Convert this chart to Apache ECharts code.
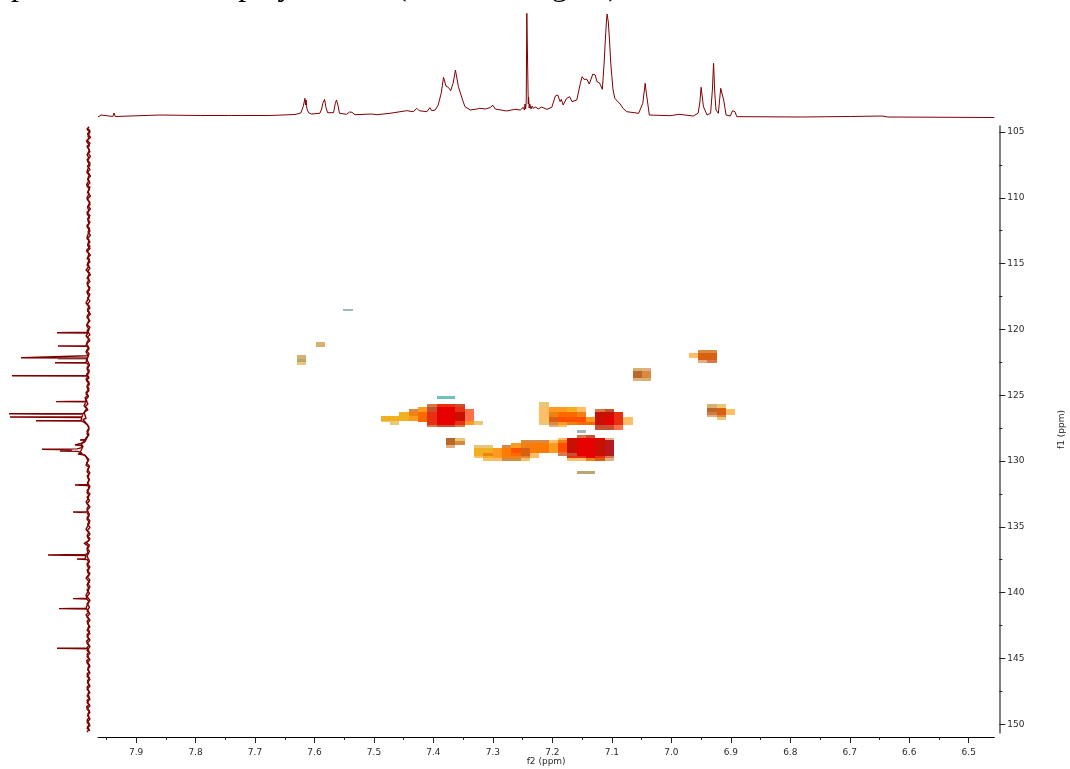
<!DOCTYPE html>
<html><head><meta charset="utf-8">
<style>html,body{margin:0;padding:0;background:#fff}#c{width:1070px;height:769px}</style>
<script src="https://cdn.jsdelivr.net/npm/echarts@6/dist/echarts.min.js"></script>
</head><body><div id="c"></div>
<script>
const f2Range = [6.457, 7.964];
const f1Range = [104.54, 150.67];
const f2Ticks = [7.9,7.8,7.7,7.6,7.5,7.4,7.3,7.2,7.1,7.0,6.9,6.8,6.7,6.6,6.5];
const f2MinorTicks = [7.95,7.85,7.75,7.65,7.55,7.45,7.35,7.25,7.15,7.05,6.95,6.85,6.75,6.65,6.55];
const f1Ticks = [105,110,115,120,125,130,135,140,145,150];
const f1MinorTicks = [107.5,112.5,117.5,122.5,127.5,132.5,137.5,142.5,147.5];

// 1H projection: [f2 ppm, intensity]
const protonTrace = [[7.964,1],[7.961,1],[7.959,3],[7.957,1],[7.939,1.5],[7.937,5],[7.935,1.5],[7.910,2],[7.860,3],[7.792,2.5],[7.744,2.5],[7.742,4.5],[7.740,2.5],[7.723,2.5],[7.722,4],[7.720,2.5],[7.675,2.5],[7.633,3.5],
[7.623,5],[7.619,11.3],[7.616,19.7],[7.615,13],[7.614,18],[7.613,10],[7.610,5.3],[7.605,4],[7.591,4.7],[7.588,9],[7.586,14.7],[7.583,18.7],[7.581,11.3],[7.578,5.3],[7.568,5.3],[7.565,14.7],[7.563,18],[7.560,11.3],[7.558,4.7],[7.546,3.7],[7.541,6],[7.537,5.7],[7.532,3.3],[7.504,4],[7.495,3.3],[7.473,4.7],[7.445,7.3],[7.434,6.3],[7.428,9.7],[7.424,7.3],[7.411,6.3],[7.406,10.3],[7.403,7.3],[7.397,8],[7.392,13],[7.387,24.7],[7.383,40.7],[7.379,32],[7.375,30.7],[7.371,27.3],[7.367,34.7],[7.363,48],[7.358,31.3],[7.355,30.7],[7.351,18],[7.347,11.3],[7.338,8],[7.327,9],[7.322,9.7],[7.313,9],[7.305,10.3],[7.300,12.7],[7.296,9],[7.277,7],[7.263,8.7],[7.254,8],[7.249,10.7],[7.247,8],[7.246,14],[7.245,9],[7.244,16],[7.243,104.7],[7.242,104.7],[7.241,30],[7.2405,14],[7.240,21],[7.239,10],[7.238,14],[7.236,9],[7.234,12],[7.232,9.7],[7.228,11],[7.224,9],[7.218,11],[7.209,8.7],[7.201,10.7],[7.195,22],[7.191,23],[7.187,16.3],[7.185,18.7],[7.182,13],[7.176,19.7],[7.171,21.3],[7.167,16.3],[7.159,18],[7.153,34.7],[7.150,41.3],[7.147,38.7],[7.142,38.7],[7.138,34],[7.132,44],[7.128,43],[7.125,36.3],[7.121,35.3],[7.116,28.7],[7.113,55],[7.111,78],[7.109,98],[7.108,104],[7.106,96],[7.104,78],[7.102,56],[7.100,41.3],[7.098,28],[7.095,19.7],[7.091,17],[7.086,14],[7.081,9.5],[7.075,6.3],[7.055,4.7],[7.048,14.7],[7.044,34.7],[7.042,24.7],[7.041,26.3],[7.037,3],[7.002,2.3],[6.987,3.7],[6.963,2],[6.955,4.7],[6.952,16],[6.950,30.7],[6.946,11.3],[6.940,3],[6.934,4.7],[6.931,28],[6.929,54.7],[6.927,26],[6.925,8],[6.921,4.7],[6.917,29.7],[6.915,28.7],[6.912,18],[6.908,3],[6.901,2],[6.897,7.3],[6.893,6.3],[6.890,1.3],[6.873,1.3],[6.783,1],[6.699,1.5],[6.646,2],[6.636,1],[6.457,0.5]];

// 13C projection: [intensity, f1 ppm]
const carbonTrace = [[3,104.6],[5,104.8],[2,105.0],[4,105.3],[3,105.5],[5.5,105.7],[2.5,106.0],[4,106.2],[2,106.5],[5,106.7],[3,107.0],[4.5,107.2],[2,107.5],[3.5,107.7],[5,108.0],[2.5,108.2],[4,108.5],[3,108.7],[5.5,109.0],[2,109.2],[4,109.5],[3,109.7],[5,110.0],[3.5,110.2],[2,110.5],[4.5,110.7],[3,111.0],[5,111.2],[2.5,111.5],[4,111.7],[3,112.0],[5,112.2],[2,112.5],[3.5,112.7],[5,113.0],[3,113.2],[4,113.5],[2,113.7],[5.5,114.0],[3,114.2],[4,114.5],[2.5,114.7],[4.5,115.0],[3,115.2],[6,115.5],[2.5,115.7],[4,116.0],[3,116.2],[5,116.5],[4,116.7],[2.5,117.0],[5,117.2],[3,117.5],[4,117.7],[6,118.0],[3,118.2],[4.5,118.5],[2.5,118.7],[5,119.0],[3,119.2],[4,119.5],[5.5,119.7],[3,120.0],[4,120.22],[35,120.25],[4,120.28],[6,120.5],[3,120.7],[5,121.0],[6,121.23],[34,121.26],[5,121.29],[3,121.5],[6,121.7],[4,122.0],[5,122.12],[71,122.15],[5,122.18],[3,122.3],[6,122.5],[37,122.53],[5,122.56],[3,122.8],[5,123.0],[3,123.3],[5,123.49],[80,123.52],[4,123.55],[6,123.8],[3,124.0],[5,124.3],[3,124.5],[6,124.8],[4,125.0],[7,125.2],[5,125.46],[36,125.49],[6,125.52],[8,125.8],[5,126.0],[7,126.2],[8,126.38],[83,126.41],[9,126.45],[7,126.55],[10,126.63],[82,126.66],[10,126.7],[11,126.91],[56,126.94],[10,126.97],[7,127.1],[4,127.3],[3,127.6],[5,127.9],[4,128.1],[6,128.37],[12,128.40],[6,128.43],[8,128.6],[10,128.75],[17,128.78],[10,128.81],[11,129.0],[15,129.08],[50,129.11],[20,129.14],[18,129.21],[32,129.24],[14,129.27],[10,129.4],[14,129.47],[7,129.55],[5,129.8],[4,130.0],[6,130.3],[3,130.5],[5,130.8],[3,131.0],[4,131.3],[3,131.5],[5,131.79],[17,131.82],[4,131.86],[3,132.1],[5,132.4],[3,132.6],[4,132.9],[6,133.1],[3,133.4],[5,133.6],[4,133.85],[19,133.88],[5,133.91],[3,134.2],[5,134.4],[2.5,134.7],[4,134.9],[6,135.2],[3,135.4],[5,135.7],[2,135.9],[4,136.1],[8,136.25],[3,136.5],[5,136.7],[4,136.95],[6,137.11],[44,137.14],[6,137.18],[4,137.3],[7,137.42],[15,137.45],[5,137.48],[3,137.7],[5,137.9],[3,138.2],[4.5,138.4],[3,138.7],[6,138.9],[2.5,139.2],[5,139.4],[3,139.7],[4,139.9],[6,140.2],[5,140.43],[19,140.46],[5,140.49],[3,140.7],[5,141.0],[6,141.19],[33,141.22],[5,141.25],[3,141.5],[6,141.7],[3,142.0],[5,142.2],[3,142.5],[4,142.7],[2.5,143.0],[5,143.2],[3,143.5],[5.5,143.7],[3,144.0],[5,144.2],[35,144.23],[4,144.27],[3,144.5],[5,144.7],[3,145.0],[5.5,145.2],[2.5,145.5],[4,145.7],[3,146.0],[5,146.2],[2.5,146.5],[4.5,146.7],[3,147.0],[5,147.2],[3,147.5],[4,147.7],[2.5,148.0],[5,148.2],[3,148.5],[5.5,148.7],[2.5,149.0],[4,149.2],[3,149.5],[5,149.7],[2.5,150.0],[4.5,150.2],[3,150.4],[5,150.6]];
// finer baseline ripple of the same projection
const carbonRipple = [[5,104.7],[2,104.9],[4.5,105.15],[1.5,105.4],[5,105.6],[2,105.85],[5,106.1],[2.5,106.35],[4,106.6],[1.5,106.85],[5,107.1],[2,107.35],[4.5,107.6],[2,107.85],[5,108.1],[1.5,108.35],[4.5,108.6],[2,108.85],[5,109.1],[2.5,109.35],[4.5,109.6],[1.5,109.85],[5,110.1],[2,110.35],[4,110.6],[1.5,110.85],[5,111.1],[2,111.35],[4.5,111.6],[2,111.85],[5,112.1],[2.5,112.35],[4,112.6],[1.5,112.85],[5,113.1],[2,113.35],[4.5,113.6],[2,113.85],[5,114.1],[1.5,114.35],[5,114.6],[2,114.85],[5,115.1],[2,115.35],[4.5,115.6],[1.5,115.85],[5,116.1],[2,116.35],[4.5,116.6],[2,116.85],[5,117.1],[2,117.35],[4.5,117.6],[2,117.85],[5,118.1],[2,118.35],[4.5,118.6],[1.5,118.85],[5,119.1],[2,119.35],[5,119.6],[2,119.85],[5,120.1],[2,120.4],[5,120.6],[2,120.85],[5.5,121.1],[3,121.4],[5.5,121.6],[3,121.85],[5,122.3],[2.5,122.7],[5,122.9],[2.5,123.15],[5.5,123.4],[3,123.65],[5.5,123.9],[2.5,124.15],[5,124.4],[3,124.65],[6,124.9],[3.5,125.1],[6.5,125.35],[4,125.65],[7,125.9],[4,126.1],[8,126.3],[6,126.75],[9,126.85],[5,127.2],[3,127.45],[5,127.75],[3,128.0],[6,128.25],[8,128.5],[11,128.7],[9,128.9],[12,129.35],[6,129.65],[3,129.9],[5.5,130.15],[2.5,130.4],[4.5,130.65],[2,130.9],[5,131.15],[2.5,131.4],[4.5,131.65],[2,131.95],[5,132.25],[2,132.5],[5,132.75],[2.5,133.0],[5,133.25],[2,133.5],[5,133.75],[2.5,134.05],[5,134.3],[2,134.55],[4.5,134.8],[2,135.05],[5,135.3],[2,135.55],[4.5,135.8],[2.5,136.0],[6,136.2],[2.5,136.4],[5,136.6],[2.5,136.85],[5,137.25],[2.5,137.6],[5,137.8],[2,138.05],[5,138.3],[2,138.55],[5,138.8],[2,139.05],[4.5,139.3],[2,139.55],[5,139.8],[2.5,140.05],[5,140.3],[2,140.6],[5,140.85],[2.5,141.1],[5,141.4],[2,141.6],[5,141.85],[2,142.1],[4.5,142.35],[2,142.6],[5,142.85],[2,143.1],[5,143.35],[2,143.6],[5,143.85],[2,144.1],[5,144.4],[2,144.6],[5,144.85],[2,145.1],[5,145.35],[2,145.6],[4.5,145.85],[2,146.1],[5,146.35],[2,146.6],[4.5,146.85],[2,147.1],[5,147.35],[2,147.6],[5,147.85],[2,148.1],[5,148.35],[2,148.6],[5,148.85],[2,149.1],[4.5,149.35],[2,149.6],[5,149.85],[2,150.1],[5,150.3],[2,150.5]];
const carbonGhost = [[4,122.2],[34,122.2]];

const shadeNames = ['#e8c878','#ffbe66','#f0b020','#ff9a20','#f08010','#ff6a00','#ff5000','#e83010','#e60000','#c81000','#b8682a','#d88a40','#d8b070','#70c0c0','#a0b8b8','#b8a870','#d87848','#ff7048','#b81820','#d86010','#e0b080','#c85030','#ff7a00'];

// HSQC correlation cells: [f2 from, f2 to, f1 from, f1 to, contour level]
const cellsA = [[7.411,7.394,125.67,125.90,16],[7.394,7.364,125.67,125.90,7],[7.364,7.347,125.67,125.90,21],
[7.426,7.411,125.90,126.25,3],[7.411,7.394,125.90,126.25,21],[7.394,7.364,125.90,126.25,8],[7.364,7.347,125.90,126.25,7],[7.347,7.332,126.05,126.25,17],[7.441,7.426,126.05,126.25,11],
[7.458,7.441,126.25,126.58,2],[7.441,7.426,126.25,126.58,4],[7.426,7.411,126.25,126.58,5],[7.411,7.394,126.25,126.58,7],[7.394,7.364,126.25,126.58,8],[7.364,7.347,126.25,126.58,9],[7.347,7.332,126.25,126.58,17],
[7.488,7.473,126.58,126.94,2],[7.473,7.458,126.58,126.94,2],[7.458,7.441,126.58,126.94,2],[7.441,7.426,126.58,126.94,3],[7.426,7.411,126.58,127.01,5],[7.411,7.394,126.58,126.94,7],[7.394,7.364,126.58,126.94,8],[7.364,7.347,126.58,126.94,9],[7.347,7.332,126.58,126.94,17],
[7.488,7.473,126.94,127.01,0],[7.473,7.458,126.94,127.26,0],[7.411,7.394,126.94,127.26,7],[7.394,7.364,126.94,127.26,8],[7.364,7.347,126.94,127.26,7],[7.347,7.332,126.94,127.26,3],[7.332,7.317,126.94,127.26,0],
[7.411,7.394,127.26,127.42,16],[7.394,7.364,127.26,127.42,21],[7.364,7.347,127.26,127.42,16],[7.394,7.364,125.06,125.29,13]];
const cellsB = [[7.222,7.206,125.54,125.90,0],
[7.222,7.206,125.90,126.25,1],[7.206,7.190,125.90,126.25,3],[7.190,7.175,125.90,126.25,3],[7.175,7.158,125.90,126.25,2],[7.158,7.143,125.90,126.25,1],
[7.222,7.206,126.25,126.63,1],[7.206,7.190,126.25,126.63,4],[7.190,7.175,126.25,126.63,5],[7.175,7.158,126.25,126.63,5],[7.158,7.143,126.25,126.63,4],
[7.222,7.206,126.63,127.01,1],[7.206,7.190,126.63,127.01,19],[7.190,7.175,126.63,127.01,6],[7.175,7.143,126.63,127.01,6],[7.143,7.128,126.66,127.01,3],
[7.222,7.206,127.01,127.26,0],[7.206,7.190,127.01,127.26,11],[7.190,7.175,127.01,127.26,3],[7.175,7.158,127.01,127.26,4],[7.158,7.143,127.01,127.26,5],[7.143,7.128,127.01,127.26,5],
[7.206,7.190,127.26,127.42,20],[7.190,7.175,127.26,127.42,1],
[7.128,7.111,126.05,126.30,16],[7.111,7.096,126.05,126.30,21],[7.128,7.111,126.30,126.66,9],[7.111,7.096,126.30,126.66,9],[7.096,7.081,126.30,127.26,7],
[7.128,7.111,126.66,127.26,9],[7.111,7.096,126.66,127.26,8],[7.081,7.064,126.66,127.26,1],
[7.128,7.111,127.26,127.64,21],[7.111,7.096,127.26,127.64,21],[7.096,7.081,127.26,127.64,17],[7.158,7.143,127.64,127.87,14]];
const cellsC = [[7.379,7.364,128.25,128.78,10],[7.379,7.364,128.78,129.01,20],[7.364,7.347,128.25,128.48,0],[7.364,7.347,128.48,128.78,11],
[7.158,7.143,128.02,128.25,16],[7.143,7.128,128.02,128.25,21],
[7.190,7.175,128.25,128.40,1],[7.175,7.158,128.25,128.40,9],[7.158,7.111,128.25,128.40,8],[7.111,7.096,128.25,128.40,20],
[7.253,7.222,128.40,128.66,11],[7.222,7.206,128.40,128.66,11],[7.206,7.190,128.40,128.66,1],[7.190,7.175,128.40,128.66,4],[7.175,7.158,128.40,128.66,9],[7.158,7.128,128.40,128.66,8],[7.128,7.111,128.40,128.66,9],[7.111,7.096,128.40,128.66,18],
[7.285,7.269,128.78,129.04,11],[7.269,7.253,128.66,129.04,3],[7.253,7.238,128.66,129.04,4],[7.238,7.206,128.66,129.04,22],[7.206,7.190,128.66,129.04,3],[7.190,7.175,128.66,129.04,6],[7.175,7.158,128.66,129.04,9],[7.158,7.128,128.66,129.04,8],[7.128,7.111,128.66,129.04,9],[7.111,7.096,128.66,129.04,18],[7.332,7.300,128.78,129.04,0],
[7.332,7.317,129.04,129.42,2],[7.317,7.300,129.04,129.42,2],[7.300,7.285,129.04,129.42,3],[7.285,7.269,129.04,129.42,22],[7.269,7.253,129.04,129.42,6],[7.253,7.238,129.04,129.42,19],[7.238,7.222,129.04,129.42,22],[7.222,7.206,129.04,129.42,22],[7.206,7.190,129.04,129.42,3],[7.190,7.175,129.04,129.3,6],[7.175,7.158,129.04,129.42,9],[7.158,7.128,129.04,129.42,8],[7.128,7.111,129.04,129.42,9],[7.111,7.096,129.04,129.42,18],
[7.332,7.317,129.42,129.60,2],[7.317,7.300,129.42,129.60,4],[7.300,7.285,129.42,129.60,3],[7.285,7.269,129.42,129.60,22],[7.269,7.253,129.42,129.60,5],[7.253,7.238,129.42,129.60,19],[7.238,7.222,129.42,129.60,1],[7.190,7.175,129.3,129.6,16],[7.175,7.158,129.42,129.60,21],[7.158,7.128,129.42,129.60,8],[7.128,7.111,129.42,129.60,9],[7.111,7.096,129.42,129.60,18],
[7.332,7.317,129.60,129.77,1],[7.317,7.300,129.60,129.77,2],[7.300,7.285,129.60,129.77,3],[7.285,7.269,129.60,129.77,4],[7.269,7.253,129.60,129.77,4],[7.253,7.238,129.60,129.77,11],[7.238,7.222,129.60,129.77,1],[7.175,7.158,129.60,129.77,7],[7.158,7.143,129.60,129.77,7],[7.143,7.128,129.60,129.77,8],[7.128,7.111,129.60,129.77,7],[7.111,7.096,129.60,129.77,16],
[7.317,7.285,129.77,130.00,1],[7.285,7.253,129.77,130.00,11],[7.253,7.238,129.77,130.00,1],[7.175,7.143,129.77,130.00,1],[7.143,7.128,129.77,130.00,4],[7.128,7.111,129.77,130.00,19],[7.111,7.096,129.77,130.00,20],
[7.158,7.143,130.76,130.99,15],[7.143,7.128,130.76,130.99,15]];
const cellsD = [[6.970,6.955,121.79,122.17,1],[6.955,6.940,121.57,121.79,11],[6.955,6.940,121.79,122.33,19],[6.955,6.940,122.33,122.55,20],[6.940,6.923,121.57,121.79,11],[6.940,6.923,121.79,122.33,19],[6.940,6.923,122.33,122.55,16],
[7.064,7.049,122.93,123.16,12],[7.049,7.034,122.93,123.16,20],[7.064,7.049,123.16,123.69,10],[7.049,7.034,123.16,123.69,11],[7.064,7.049,123.69,123.92,20],[7.049,7.034,123.69,123.92,12],
[6.940,6.923,125.67,125.97,12],[6.940,6.923,125.97,126.28,10],[6.940,6.923,126.28,126.50,16],[6.940,6.923,126.50,126.66,20],[6.923,6.908,125.67,125.97,0],[6.923,6.908,125.97,126.50,19],[6.923,6.908,126.50,126.66,11],[6.923,6.908,126.66,126.88,0],[6.908,6.893,126.05,126.50,1],
[7.629,7.614,121.95,122.25,12],[7.629,7.614,122.25,122.48,15],[7.629,7.614,122.48,122.71,0],[7.597,7.582,120.96,121.34,12],[7.552,7.535,118.45,118.60,14]];
const hsqcCells = [...cellsA, ...cellsB, ...cellsC, ...cellsD];

const traceColor = '#7f0000';
const labelColor = '#2a2a2a';

const chart = echarts.init(document.getElementById('c'), null, {renderer:'canvas'});
chart.setOption({
  animation:false,
  backgroundColor:'#fff',
  graphic:[
    {type:'text',x:11,y:3,style:{text:'part of the NMR',font:'32px "Liberation Serif"',fill:'#000',verticalAlign:'bottom'}},
    {type:'text',x:201,y:3,style:{text:'display of the',font:'32px "Liberation Serif"',fill:'#000',verticalAlign:'bottom'}},
    {type:'text',x:396,y:3,style:{text:'(aromatic region)',font:'32px "Liberation Serif"',fill:'#000',verticalAlign:'bottom'}}
  ],
  grid:[
    {left:98,width:896.3,top:126,height:607,outerBoundsMode:'none'},
    {left:98,width:896.3,top:13,height:105,outerBoundsMode:'none'},
    {left:5,width:87,top:126,height:607,outerBoundsMode:'none'}
  ],
  xAxis:[
    {type:'value',gridIndex:0,inverse:true,min:f2Range[0],max:f2Range[1],position:'bottom',offset:4,
     name:'f2 (ppm)',nameLocation:'middle',nameGap:20,nameMoveOverlap:false,nameTextStyle:{fontFamily:'DejaVu Sans',fontSize:9,color:labelColor},
     axisLine:{show:true,onZero:false,lineStyle:{color:'#000',width:1}},
     axisTick:{show:true,length:6,customValues:f2Ticks,lineStyle:{color:'#222'}},
     axisLabel:{show:true,customValues:f2Ticks,formatter:v=>v.toFixed(1),margin:11,fontFamily:'DejaVu Sans',fontSize:9,color:labelColor},
     splitLine:{show:false}},
    {type:'value',gridIndex:0,inverse:true,min:f2Range[0],max:f2Range[1],position:'bottom',offset:4,
     axisLine:{show:false,onZero:false},axisTick:{show:true,length:3,customValues:f2MinorTicks,lineStyle:{color:'#222'}},
     axisLabel:{show:false},splitLine:{show:false}},
    {type:'value',gridIndex:1,inverse:true,min:f2Range[0],max:f2Range[1],show:false},
    {type:'value',gridIndex:2,inverse:true,min:0,max:87,show:false}
  ],
  yAxis:[
    {type:'value',gridIndex:0,inverse:true,min:f1Range[0],max:f1Range[1],position:'right',offset:5,
     name:'f1 (ppm)',nameLocation:'middle',nameGap:58,nameRotate:90,nameTextStyle:{fontFamily:'DejaVu Sans',fontSize:9,color:labelColor},
     axisLine:{show:true,onZero:false,lineStyle:{color:'#555',width:1.5}},
     axisTick:{show:true,length:6,customValues:f1Ticks,lineStyle:{color:'#222'}},
     axisLabel:{show:true,customValues:f1Ticks,formatter:v=>String(v),margin:8,fontFamily:'DejaVu Sans',fontSize:9,color:labelColor},
     splitLine:{show:false}},
    {type:'value',gridIndex:0,inverse:true,min:f1Range[0],max:f1Range[1],position:'right',offset:5,
     axisLine:{show:false,onZero:false},axisTick:{show:true,length:3,customValues:f1MinorTicks,lineStyle:{color:'#222'}},
     axisLabel:{show:false},splitLine:{show:false}},
    {type:'value',gridIndex:1,min:0,max:105,show:false},
    {type:'value',gridIndex:2,inverse:true,min:f1Range[0],max:f1Range[1],show:false}
  ],
  series:[
    {type:'custom',xAxisIndex:0,yAxisIndex:0,data:hsqcCells,encode:{x:[0,1],y:[2,3]},clip:true,
     renderItem:(params,api)=>{
       const a=api.coord([api.value(0),api.value(2)]), b=api.coord([api.value(1),api.value(3)]);
       const x0=Math.round(a[0]),y0=Math.round(a[1]),x1=Math.round(b[0]),y1=Math.round(b[1]);
       return {type:'rect',shape:{x:x0,y:y0,width:x1-x0,height:y1-y0},style:{fill:shadeNames[api.value(4)]}};
     }},
    {type:'line',xAxisIndex:2,yAxisIndex:2,data:protonTrace,showSymbol:false,lineStyle:{color:traceColor,width:1},silent:true},
    {type:'line',xAxisIndex:3,yAxisIndex:3,data:carbonGhost,showSymbol:false,lineStyle:{color:'#a89a9a',width:2.5},silent:true},
    {type:'line',xAxisIndex:3,yAxisIndex:3,data:carbonRipple,showSymbol:false,lineStyle:{color:traceColor,width:1.4},silent:true},
    {type:'line',xAxisIndex:3,yAxisIndex:3,data:carbonTrace,showSymbol:false,lineStyle:{color:traceColor,width:1.4},silent:true}
  ]
});
</script></body></html>
